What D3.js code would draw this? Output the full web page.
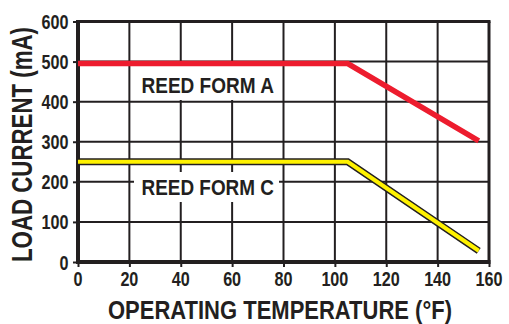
<!DOCTYPE html>
<html><head><meta charset="utf-8">
<script src="https://cdn.jsdelivr.net/npm/d3@7"></script>
<style>body{margin:0;background:#fff}svg{display:block}</style>
</head><body>
<svg id="c" width="509" height="324"></svg>
<script>
const xTicks = [0,20,40,60,80,100,120,140,160];
const yTicks = [0,100,200,300,400,500,600];
const formA_temp = [0,105,156];
const formA_current = [495,495,302];
const formC_temp = [0,105,156];
const formC_current = [250,250,28];
const labelA = "REED FORM A";
const labelC = "REED FORM C";
const xTitle = "OPERATING TEMPERATURE (°F)";
const yTitle = "LOAD CURRENT (mA)";

const svg = d3.select("#c");
const font = "'Liberation Sans',Arial,sans-serif";
const ink = "#231f20";
const x = d3.scaleLinear().domain([0,160]).range([78,489]);
const y = d3.scaleLinear().domain([0,600]).range([262,21.5]);

// place a text at (px,py) with given anchor, squeezed horizontally to width w
function fitText(parent, str, px, py, w, size, anchor, rot) {
  const gg = parent.append("g");
  const t = gg.append("text").text(str)
    .attr("font-family",font).attr("font-weight","bold").attr("font-size",size).attr("fill",ink);
  const nat = t.node().getComputedTextLength();
  const sx = w / nat;
  const off = anchor==="middle" ? -w/2 : anchor==="end" ? -w : 0;
  gg.attr("transform",`translate(${px},${py})${rot?` rotate(${rot})`:""} translate(${off},0) scale(${sx},1)`);
  return gg;
}

// grid
const g = svg.append("g");
g.selectAll("line.v").data(xTicks.slice(1,-1)).join("line")
  .attr("x1",d=>x(d)).attr("x2",d=>x(d)).attr("y1",y(600)).attr("y2",y(0))
  .attr("stroke",ink).attr("stroke-width",2);
g.selectAll("line.h").data(yTicks.slice(1,-1)).join("line")
  .attr("x1",x(0)).attr("x2",x(160)).attr("y1",d=>y(d)).attr("y2",d=>y(d))
  .attr("stroke",ink).attr("stroke-width",2);

// label backgrounds
svg.append("rect").attr("x",134).attr("y",66).attr("width",147).attr("height",34).attr("fill","#fff");
svg.append("rect").attr("x",134).attr("y",172).attr("width",145).attr("height",30).attr("fill","#fff");

// border
svg.append("line").attr("x1",x(0)-2).attr("x2",x(160)+1.5).attr("y1",y(600)).attr("y2",y(600)).attr("stroke",ink).attr("stroke-width",3);
svg.append("line").attr("x1",x(160)).attr("x2",x(160)).attr("y1",y(600)).attr("y2",y(0)).attr("stroke",ink).attr("stroke-width",3);

// axes (ticks via d3 axes, labels fitted)
const yAxis = d3.axisLeft(y).tickValues(yTicks).tickSize(5).tickFormat("");
const xAxis = d3.axisBottom(x).tickValues(xTicks).tickSize(5).tickFormat("");
const ya = svg.append("g").attr("transform",`translate(${x(0)},0)`).call(yAxis);
const xa = svg.append("g").attr("transform",`translate(0,${y(0)})`).call(xAxis);
[ya,xa].forEach(a=>{
  a.select(".domain").remove();
  a.selectAll(".tick line").attr("stroke",ink).attr("stroke-width",2);
  a.selectAll(".tick text").remove();
});
const tl = svg.append("g");
yTicks.forEach(v=>{ const s=String(v); fitText(tl, s, 68.5, y(v)+7.5, 9*s.length, 21, "end"); });
xTicks.forEach(v=>{ const s=String(v); fitText(tl, s, x(v), 286, 9*s.length, 21, "middle"); });

svg.append("line").attr("x1",x(0)).attr("x2",x(0)).attr("y1",y(600)-1.5).attr("y2",y(0)+2).attr("stroke",ink).attr("stroke-width",4);
svg.append("line").attr("x1",x(0)-2).attr("x2",x(160)+1.5).attr("y1",y(0)).attr("y2",y(0)).attr("stroke",ink).attr("stroke-width",4);

// lines
const line = d3.line().x(d=>x(d[0])).y(d=>y(d[1]));
const A = formA_temp.map((t,i)=>[t,formA_current[i]]);
const C = formC_temp.map((t,i)=>[t,formC_current[i]]);
svg.append("path").attr("d",line(A)).attr("fill","none").attr("stroke","#ed1c2e").attr("stroke-width",5.5);
svg.append("path").attr("d",line(C)).attr("fill","none").attr("stroke",ink).attr("stroke-width",7);
svg.append("path").attr("d",line(C)).attr("fill","none").attr("stroke","#fff200").attr("stroke-width",4);

// labels
fitText(svg, labelA, 141.5, 93.3, 132.5, 22, "start");
fitText(svg, labelC, 141.5, 195, 132.5, 22, "start");

// titles
fitText(svg, xTitle, 108, 319.3, 344, 26, "start");
fitText(svg, yTitle, 31.5, 262, 235, 29, "start", -90);
</script>
</body></html>
